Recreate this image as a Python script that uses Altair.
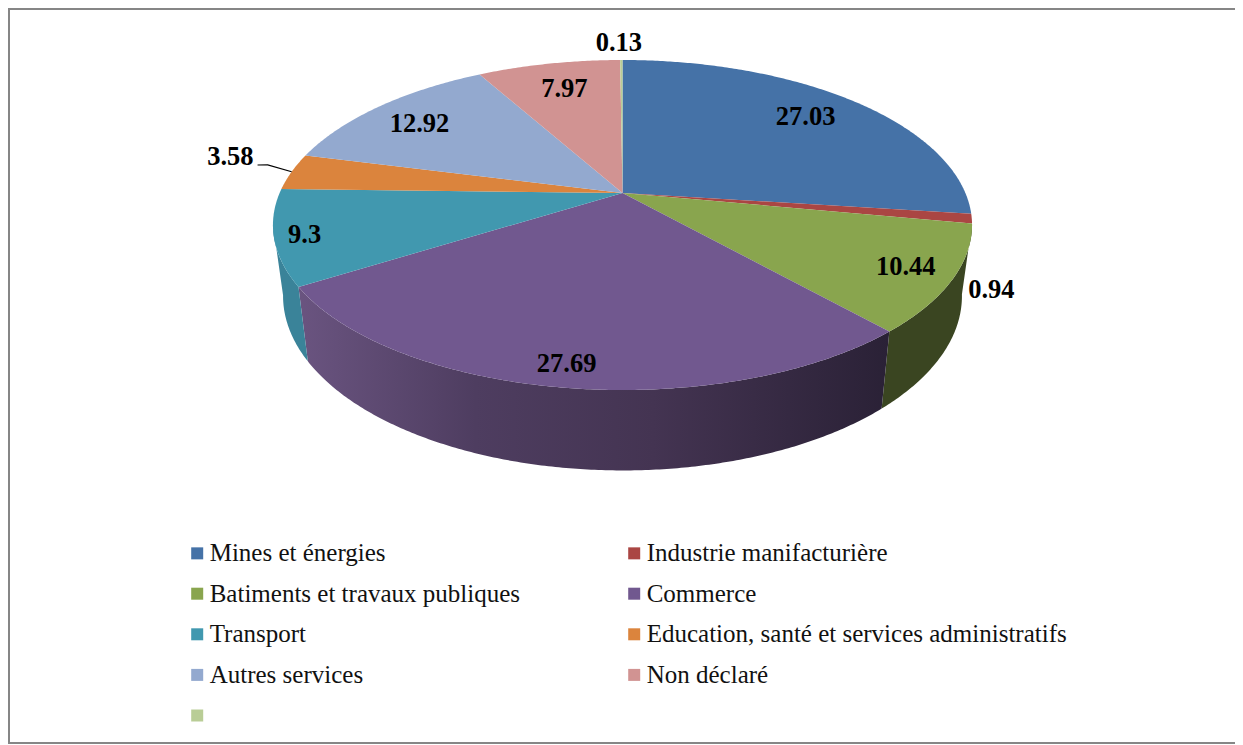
import math
import altair as alt
import pandas as pd

# --- chart values -----------------------------------------------------------
categories = ["Mines et énergies", "Industrie manifacturière", "Batiments et travaux publiques",
              "Commerce", "Transport", "Education, santé et services administratifs",
              "Autres services", "Non déclaré", " "]
values = [27.03, 0.94, 10.44, 27.69, 9.3, 3.58, 12.92, 7.97, 0.13]
colors = ["#4572A7", "#AA4643", "#89A54E", "#71588F", "#4198AF", "#DB843D", "#93A9CF", "#D19392", "#B9CD96"]
label_radius = [0.79, 1.106, 0.87, 0.90, 0.917, 1.219, 0.802, 0.775, 1.157]
label_shift_deg = [-0.5, 20.6, 0, 0.5, -0.6, 3.3, -1.3, 0.3, -0.4]

# --- perspective of the pie: unit disc -> picture space ----------------------
K = 0.194
TOP = dict(cx=622.5, cy=193.0, a=342.9, b=158.8)
BOTTOM = dict(cx=622.5, cy=262.0, a=333.0, b=168.0)


def project(deg, rho=1.0, face=TOP):
    t = math.radians(deg)
    u, v = rho * math.sin(t), rho * math.cos(t)
    w = 1 + K * v
    return face["cx"] + face["a"] * u / w, face["cy"] - face["b"] * v / w


def arc(d0, d1, face=TOP):
    n = max(2, int(abs(d1 - d0) / 0.5) + 1)
    return [project(d0 + (d1 - d0) * i / (n - 1), 1.0, face) for i in range(n)]


edges = [0.0]
for val in values:
    edges.append(edges[-1] + val * 3.6)

top_rows, wall_rows, label_rows = [], {}, []
for i, name in enumerate(categories):
    d0, d1 = edges[i], edges[i + 1]
    pts = [(TOP["cx"], TOP["cy"])] + arc(d0, d1)
    for j, (x, y) in enumerate(pts):
        top_rows.append(dict(name=name, order=j, x=x, y=y))
    mid = (d0 + d1) / 2 + label_shift_deg[i]
    lx, ly = project(mid, label_radius[i])
    label_rows.append(dict(text=str(values[i]), x=lx, y=ly))

# front walls: only the slices that face the viewer
wall_spans = {"green": (edges[2], edges[3]), "purple": (edges[3], edges[4]), "teal": (edges[4], 259.0)}
for key, (d0, d1) in wall_spans.items():
    pts = arc(d0, d1) + arc(d1, d0, BOTTOM)
    wall_rows[key] = pd.DataFrame([dict(order=j, x=x, y=y) for j, (x, y) in enumerate(pts)])

mid5 = (edges[5] + edges[6]) / 2
leader = pd.DataFrame([dict(order=j, x=p[0], y=p[1]) for j, p in enumerate(
    [project(279.4, 1.117), project(279.7, 1.087), project(mid5, 1.0)])])

W, H = 1227, 736
xs = alt.Scale(domain=[8, 8 + W], nice=False, zero=False)
ys = alt.Scale(domain=[8 + H, 8], nice=False, zero=False)
X = alt.X("x:Q", scale=xs, axis=None)
Y = alt.Y("y:Q", scale=ys, axis=None)


def grad(stops):
    return alt.LinearGradient(gradient="linear", x1=0, x2=1, y1=0, y2=0,
                              stops=[alt.GradientStop(color=c, offset=o) for o, c in stops])


def wall(key, stops):
    return alt.Chart(wall_rows[key]).mark_line(fill=grad(stops), strokeWidth=0, clip=True, interpolate="linear").encode(
        x=X, y=Y, order="order:Q")


wall_green = wall("green", [(0, "#3A4521"), (1, "#3A4521")])
wall_purple = wall("purple", [(0, "#6A5480"), (0.3, "#4E3D60"), (0.6, "#443452"), (1, "#2A2136")])
wall_teal = wall("teal", [(0, "#3A8399"), (1, "#3A8399")])

legend = alt.Legend(orient="none", legendX=176.7, legendY=532.6, columns=2, direction="horizontal", title=None,
                    symbolType="square", symbolSize=144, symbolStrokeWidth=0,
                    labelFont="Liberation Serif", labelFontSize=25, labelColor="#111111",
                    labelLimit=600, rowPadding=14.6, columnPadding=101, labelOffset=0,
                    padding=0, offset=0)

tops = alt.Chart(pd.DataFrame(top_rows)).mark_line(strokeWidth=0, interpolate="linear").encode(
    x=X, y=Y, order="order:Q", detail="name:N",
    fill=alt.Fill("name:N", scale=alt.Scale(domain=categories, range=colors), sort=None, legend=legend))

labels = alt.Chart(pd.DataFrame(label_rows)).mark_text(
    font="Liberation Serif", fontWeight="bold", fontSize=26.5, color="#000000", baseline="middle", align="center"
).encode(x=X, y=Y, text="text:N")

leader_line = alt.Chart(leader).mark_line(color="#000000", strokeWidth=1.2).encode(x=X, y=Y, order="order:Q")

frame_color = "#868686"
frame_left = alt.Chart(pd.DataFrame({"a": [0]})).mark_rule(color=frame_color, strokeWidth=2).encode(
    x=alt.value(1), y=alt.value(0), y2=alt.value(H))
frame_top = alt.Chart(pd.DataFrame({"a": [0]})).mark_rule(color=frame_color, strokeWidth=2).encode(
    x=alt.value(0), x2=alt.value(W), y=alt.value(1))
frame_bottom = alt.Chart(pd.DataFrame({"a": [0]})).mark_rule(color=frame_color, strokeWidth=2).encode(
    x=alt.value(0), x2=alt.value(W), y=alt.value(735))

chart = alt.layer(frame_left, frame_top, frame_bottom, wall_green, wall_purple, wall_teal, tops, labels,
                  leader_line).properties(
    width=W, height=H, padding=0, autosize=alt.AutoSizeParams(type="none"), background="white"
).configure_view(stroke=None)

chart.save("out.html", embed_options={"renderer": "svg", "actions": False})
